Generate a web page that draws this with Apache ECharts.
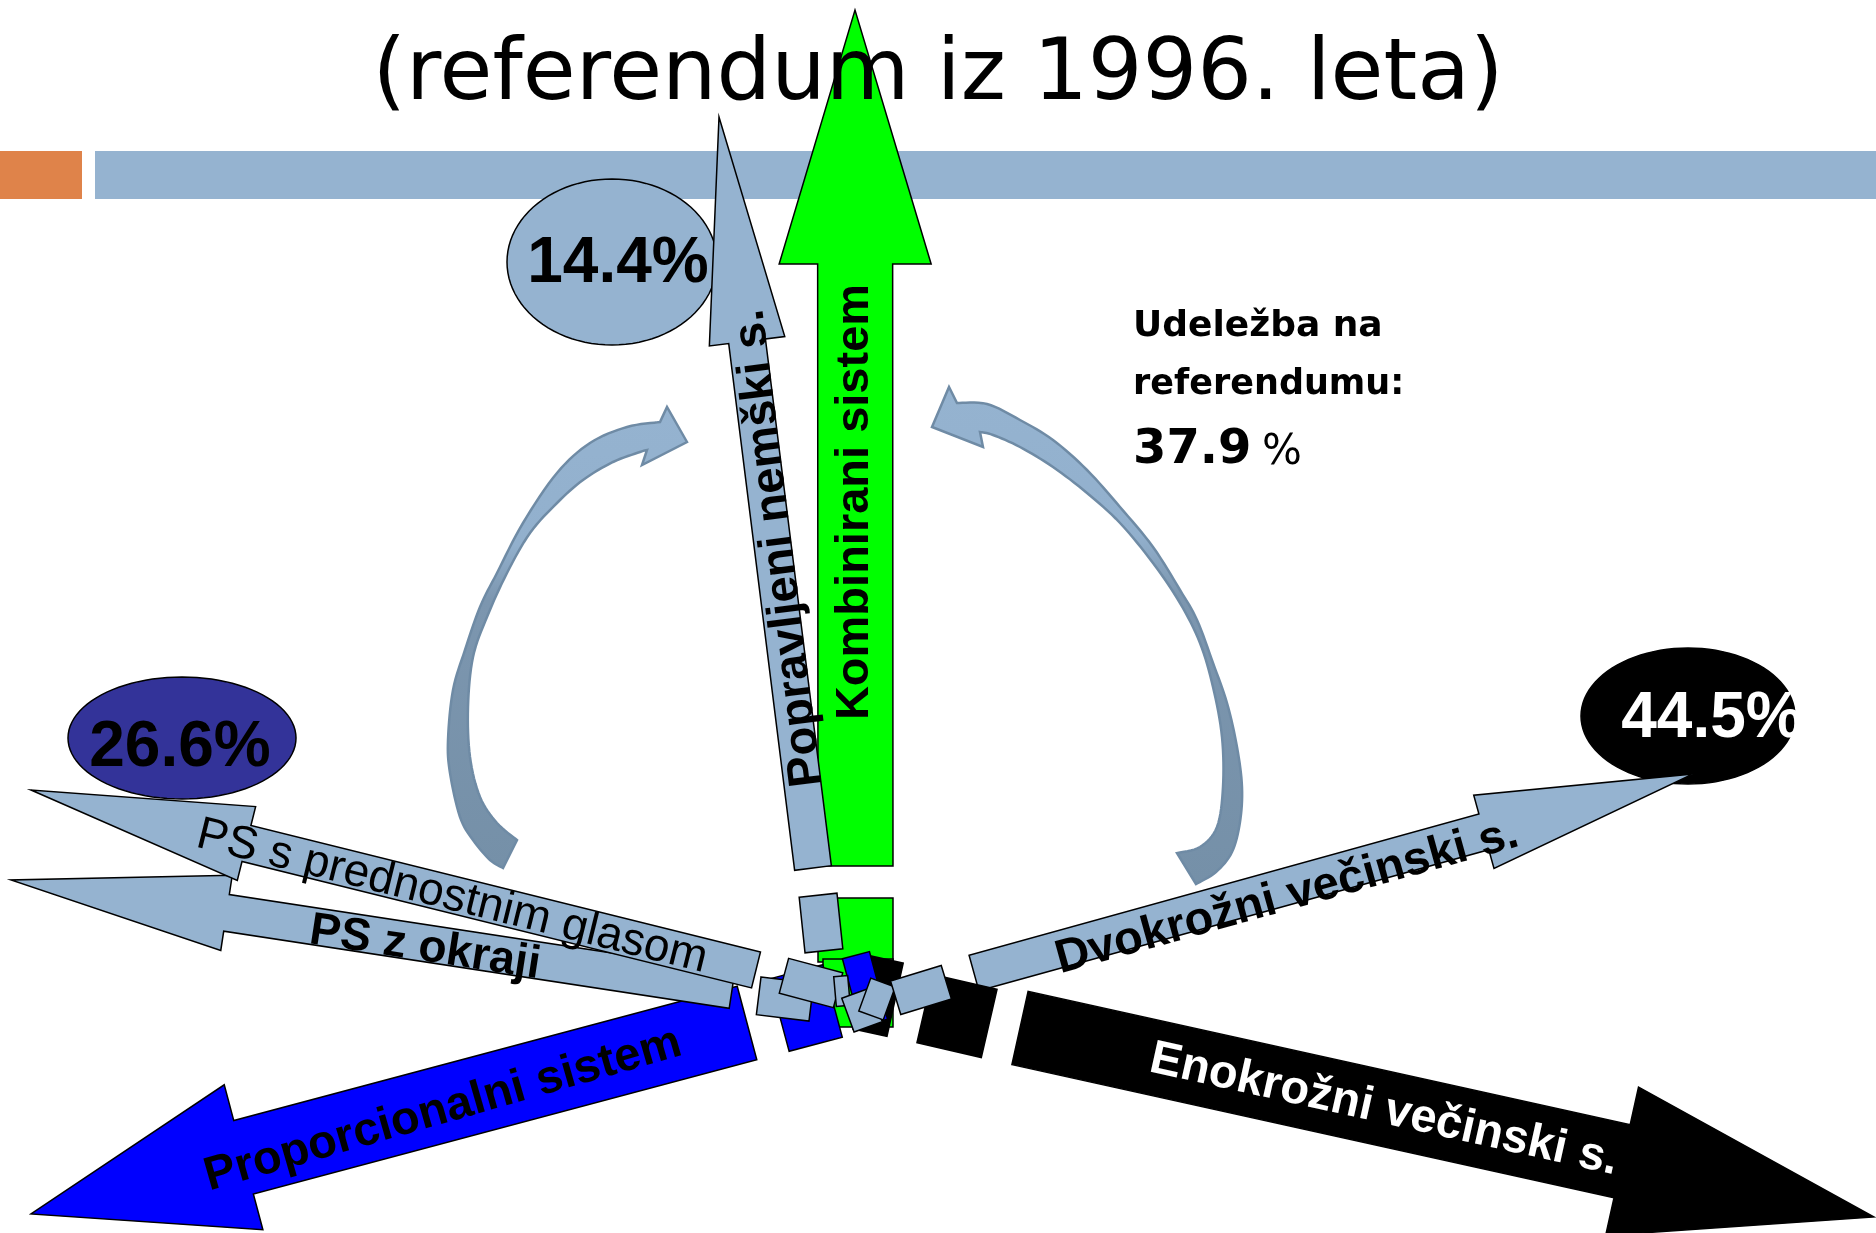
<!DOCTYPE html>
<html>
<head>
<meta charset="UTF-8">
<title>Referendum 1996</title>
<script src="https://cdn.jsdelivr.net/npm/echarts@6/dist/echarts.min.js"></script>
<style>
    html, body { margin: 0; padding: 0; background: #fff; }
    #main { width: 1876px; height: 1233px; }
</style>
</head>
<body>
<div id="main"></div>
<script type="text/javascript">
    // vsebina: sistemi, rezultati, udelezba
    var titleText = '(referendum iz 1996. leta)';
    var systems = ['Kombinirani sistem', 'Popravljeni nemški s.', 'PS s prednostnim glasom',
                   'PS z okraji', 'Proporcionalni sistem', 'Dvokrožni večinski s.', 'Enokrožni večinski s.'];
    var results = ['14.4%', '26.6%', '44.5%'];
    var turnout = ['Udeležba na', 'referendumu:', '37.9', '%'];

    // postavitev puscic (v enotah osi, 1 enota = 1 px)
    var arrowTail = [[855.5, 866], [813, 868], [756, 970], [732, 990], [747, 1023], [974, 973], [1020, 1028]];
    var arrowTip = [[855, 10], [719, 117], [31, 790], [11, 880], [31, 1214], [1693, 774], [1874, 1217]];
    var arrowShaft = [75, 37, 37, 37, 76, 37, 75];
    var arrowHead = [152, 76, 76, 76, 150, 76, 152];
    var arrowHeadLen = [254, 226, 222, 218, 220, 217, 258];
    var arrowFill = ['#00ff00', '#95b3d0', '#95b3d0', '#95b3d0', '#0000ff', '#95b3d0', '#000000'];
    var drawOrder = [4, 3, 2, 0, 1, 6, 5];

    // napisi na puscicah
    var labelPos = [[855, 502], [779, 548], [452, 897], [425, 948], [443, 1110], [1287, 897], [1384, 1110]];
    var labelAngle = [90, 97.1, -13.9, -8.7, 16, 15.5, -12.5];
    var labelSize = [47, 47, 46, 46, 47, 47, 47];
    var labelWeight = ['bold', 'bold', 'normal', 'bold', 'bold', 'bold', 'bold'];
    var labelColor = ['#000', '#000', '#000', '#000', '#000', '#000', '#fff'];

    // elipse z rezultati
    var ovalCenter = [[612, 262], [182, 738], [1688, 716]];
    var ovalRadius = [[105, 83], [114, 61], [107, 68]];
    var ovalFill = ['#95b3d0', '#333399', '#000000'];
    var ovalTextColor = ['#000', '#000', '#fff'];
    var ovalTextPos = [[618, 264], [180, 748], [1712, 719]];

    // koscki v sredini "eksplozije": cx, cy, w, h, kot
    var fragPos = [[855.5, 930], [858, 993], [878, 996], [957, 1016], [806, 1008], [865, 989],
                   [821, 923], [785, 999], [811, 983], [842, 991], [862, 1010], [877, 999], [921, 990]];
    var fragSize = [[75, 64], [70, 68], [35, 75], [66, 70], [55, 75], [28, 70],
                    [38, 56], [53, 38], [56, 36], [14, 30], [30, 36], [26, 35], [53, 35]];
    var fragAngle = [0, 0, 12.5, 13, -15, -15, -6, 7, 15, -5, -20, 20, -17];
    var fragFill = ['#00ff00', '#00ff00', '#000000', '#000000', '#0000ff', '#0000ff',
                    '#95b3d0', '#95b3d0', '#95b3d0', '#95b3d0', '#95b3d0', '#95b3d0', '#95b3d0'];

    // ukrivljeni puscici: konica, zgornji vogal, spodnji vogal, zunanji in notranji rob
    var curveTip = [[687, 442], [932, 427]];
    var curveCornerA = [[667, 407], [949, 387]];
    var curveCornerB = [[642, 465], [983, 447]];
    var curveOuter = [
        [[660, 422], [627, 427], [590, 443], [557, 473], [523, 523], [497, 573], [480, 607], [465, 650],
         [453, 690], [448, 740], [450, 773], [460, 817], [473, 840], [490, 860], [503, 868]],
        [[957, 403], [987, 404], [1020, 420], [1053, 440], [1087, 470], [1120, 507], [1153, 547], [1180, 590],
         [1197, 620], [1213, 663], [1227, 703], [1237, 747], [1242, 787], [1240, 822], [1232, 852], [1216, 872], [1196, 884]]
    ];
    var curveInner = [
        [[517, 840], [497, 823], [480, 797], [470, 757], [468, 707], [473, 657], [487, 617], [507, 573],
         [530, 533], [557, 503], [583, 480], [613, 462], [640, 452], [647, 450]],
        [[1177, 853], [1200, 847], [1217, 827], [1223, 787], [1222, 737], [1213, 687], [1200, 643], [1180, 603],
         [1153, 563], [1120, 523], [1087, 493], [1053, 467], [1020, 447], [993, 435], [980, 432]]
    ];

    // pasovi na vrhu
    var bandPos = [[0, 151, 82, 48], [95, 151, 1781, 48]];
    var bandFill = ['#df834a', '#95b3d0'];

    // besedila (naslov, udelezba)
    var textPos = [[938, 77], [1133, 327], [1133, 385], [1133, 451], [1262, 453]];
    var textList = [titleText, turnout[0], turnout[1], turnout[2], turnout[3]];
    var textSize = [86, 36, 35, 48, 42];
    var textWeight = ['normal', 'bold', 'bold', 'bold', 'normal'];
    var textAlign = ['center', 'left', 'left', 'left', 'left'];

    var myChart = echarts.init(document.getElementById('main'));
    var ARIAL = '"Liberation Sans", Arial, sans-serif';
    var GOTHIC = '"DejaVu Sans", sans-serif';

    function pts(api, list) {
        return list.map(function (p) { return api.coord(p); });
    }

    function arrowPoints(t, p, s, hw, hl) {
        var dx = p[0] - t[0], dy = p[1] - t[1];
        var L = Math.sqrt(dx * dx + dy * dy);
        var ux = dx / L, uy = dy / L, nx = -uy, ny = ux;
        var bx = p[0] - ux * hl, by = p[1] - uy * hl;
        return [
            [t[0] + nx * s / 2, t[1] + ny * s / 2], [bx + nx * s / 2, by + ny * s / 2],
            [bx + nx * hw / 2, by + ny * hw / 2], p,
            [bx - nx * hw / 2, by - ny * hw / 2], [bx - nx * s / 2, by - ny * s / 2],
            [t[0] - nx * s / 2, t[1] - ny * s / 2]
        ];
    }

    function rectPoints(c, sz, deg) {
        var a = deg * Math.PI / 180, co = Math.cos(a), si = Math.sin(a);
        return [[-1, -1], [1, -1], [1, 1], [-1, 1]].map(function (k) {
            var x = k[0] * sz[0] / 2, y = k[1] * sz[1] / 2;
            return [c[0] + x * co - y * si, c[1] + x * si + y * co];
        });
    }

    function ovalPoints(c, r) {
        var out = [];
        for (var i = 0; i < 96; i++) {
            var a = i / 96 * Math.PI * 2;
            out.push([c[0] + r[0] * Math.cos(a), c[1] + r[1] * Math.sin(a)]);
        }
        return out;
    }

    function spline(list, n) {
        var out = [];
        for (var i = 0; i < list.length - 1; i++) {
            var p0 = list[Math.max(i - 1, 0)], p1 = list[i], p2 = list[i + 1], p3 = list[Math.min(i + 2, list.length - 1)];
            for (var k = 0; k < n; k++) {
                var t = k / n, t2 = t * t, t3 = t2 * t;
                var q = [0, 1].map(function (d) {
                    return 0.5 * (2 * p1[d] + (-p0[d] + p2[d]) * t + (2 * p0[d] - 5 * p1[d] + 4 * p2[d] - p3[d]) * t2
                        + (-p0[d] + 3 * p1[d] - 3 * p2[d] + p3[d]) * t3);
                });
                out.push(q);
            }
        }
        out.push(list[list.length - 1]);
        return out;
    }

    function ovalItem(api, i) {
        var children = [{
            type: 'polygon',
            shape: { points: pts(api, ovalPoints(ovalCenter[i], ovalRadius[i])) },
            style: { fill: ovalFill[i], stroke: '#000', lineWidth: 1.5 }
        }];
        var tp = api.coord(ovalTextPos[i]);
        children.push({
            type: 'text', x: tp[0], y: tp[1],
            style: { text: results[i], fill: ovalTextColor[i], fontSize: 64, fontWeight: 'bold',
                     fontFamily: ARIAL, align: 'center', verticalAlign: 'middle' }
        });
        return { type: 'group', children: children };
    }

    var option = {
        backgroundColor: '#fff',
        animation: false,
        grid: { left: 0, right: 0, top: 0, bottom: 0 },
        xAxis: { type: 'value', min: 0, max: 1876, show: false },
        yAxis: { type: 'value', min: 0, max: 1233, inverse: true, show: false },
        series: [
            {   // pasova
                type: 'custom', z: 1,
                data: bandPos.map(function (b, i) { return [b[0], b[1], i]; }),
                renderItem: function (params, api) {
                    var i = api.value(2), b = bandPos[i];
                    var p0 = api.coord([b[0], b[1]]), p1 = api.coord([b[0] + b[2], b[1] + b[3]]);
                    return { type: 'rect', shape: { x: p0[0], y: p0[1], width: p1[0] - p0[0], height: p1[1] - p0[1] },
                             style: { fill: bandFill[i] } };
                }
            },
            {   // elipsi pod puscicami
                type: 'custom', z: 2,
                data: [[612, 262, 0], [1688, 716, 2]],
                renderItem: function (params, api) { return ovalItem(api, api.value(2)); }
            },
            {   // puscice
                type: 'custom', z: 3,
                data: drawOrder.map(function (i) { return [arrowTail[i][0], arrowTail[i][1], i]; }),
                renderItem: function (params, api) {
                    var i = api.value(2);
                    return {
                        type: 'polygon',
                        shape: { points: pts(api, arrowPoints(arrowTail[i], arrowTip[i], arrowShaft[i], arrowHead[i], arrowHeadLen[i])) },
                        style: { fill: arrowFill[i], stroke: '#000', lineWidth: 1.5 }
                    };
                }
            },
            {   // koscki
                type: 'custom', z: 4,
                data: fragPos.map(function (p, i) { return [p[0], p[1], i]; }),
                renderItem: function (params, api) {
                    var i = api.value(2);
                    return {
                        type: 'polygon',
                        shape: { points: pts(api, rectPoints(fragPos[i], fragSize[i], fragAngle[i])) },
                        style: { fill: fragFill[i], stroke: '#000', lineWidth: 1.5 }
                    };
                }
            },
            {   // napisi na puscicah
                type: 'custom', z: 5,
                data: labelPos.map(function (p, i) { return [p[0], p[1], i]; }),
                renderItem: function (params, api) {
                    var i = api.value(2), p = api.coord(labelPos[i]);
                    return {
                        type: 'text', x: p[0], y: p[1], rotation: labelAngle[i] * Math.PI / 180,
                        style: { text: systems[i], fill: labelColor[i], fontSize: labelSize[i], fontWeight: labelWeight[i],
                                 fontFamily: ARIAL, align: 'center', verticalAlign: 'middle' }
                    };
                }
            },
            {   // elipsa nad puscicami
                type: 'custom', z: 6,
                data: [[182, 738, 1]],
                renderItem: function (params, api) { return ovalItem(api, api.value(2)); }
            },
            {   // ukrivljeni puscici
                type: 'custom', z: 7,
                data: [[687, 442, 0], [932, 427, 1]],
                renderItem: function (params, api) {
                    var i = api.value(2);
                    var outline = [curveTip[i], curveCornerA[i]]
                        .concat(spline(curveOuter[i], 8))
                        .concat(spline(curveInner[i], 8))
                        .concat([curveCornerB[i]]);
                    return {
                        type: 'polygon',
                        shape: { points: pts(api, outline) },
                        style: {
                            fill: {
                                type: 'linear', x: 0, y: 0, x2: 0, y2: 1,
                                colorStops: [
                                    { offset: 0, color: '#95b3d0' }, { offset: 0.3, color: '#92b0cd' },
                                    { offset: 0.42, color: '#7c96af' }, { offset: 1, color: '#7590a8' }
                                ]
                            },
                            stroke: '#6f8ba5', lineWidth: 2.5
                        }
                    };
                }
            },
            {   // naslov in udelezba
                type: 'custom', z: 8,
                data: textPos.map(function (p, i) { return [p[0], p[1], i]; }),
                renderItem: function (params, api) {
                    var i = api.value(2), p = api.coord(textPos[i]);
                    return {
                        type: 'text', x: p[0], y: p[1],
                        style: { text: textList[i], fill: '#000', fontSize: textSize[i], fontWeight: textWeight[i],
                                 fontFamily: GOTHIC, align: textAlign[i], verticalAlign: 'middle' }
                    };
                }
            }
        ]
    };
    myChart.setOption(option);
</script>
</body>
</html>
